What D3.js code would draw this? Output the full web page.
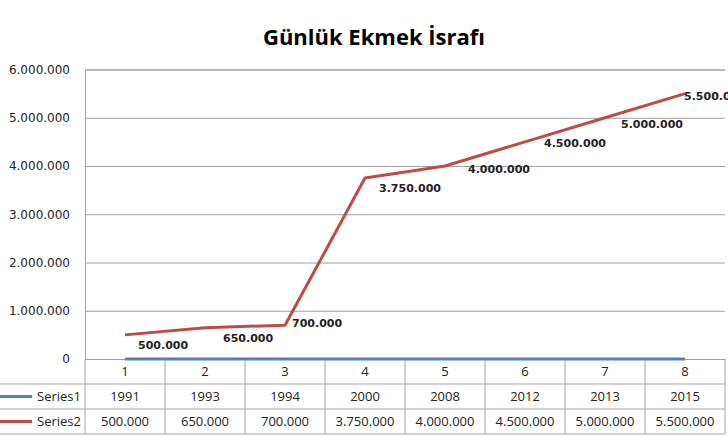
<!DOCTYPE html>
<html>
<head>
<meta charset="utf-8">
<script src="https://cdn.jsdelivr.net/npm/d3@7"></script>
<style>
  body { margin: 0; background: #fff; }
  svg { display: block; }
</style>
</head>
<body>
<div id="chart"></div>
<script>
// chart data
const title = "Günlük Ekmek İsrafı";
const categories = ["1", "2", "3", "4", "5", "6", "7", "8"];
const seriesNames = ["Series1", "Series2"];
const series1 = [1991, 1993, 1994, 2000, 2008, 2012, 2013, 2015];
const series2 = [500000, 650000, 700000, 3750000, 4000000, 4500000, 5000000, 5500000];
const yTicks = [0, 1000000, 2000000, 3000000, 4000000, 5000000, 6000000];
const colors = ["#4f81bd", "#be4b48"];
// where each series2 label sits relative to its point (Excel placed them by hand)
const labelOffsets = [[13, 14], [18, 14], [7, 2], [14, 14], [23, 7], [19, 5], [16, 10], [-1, 6]];

const width = 728, height = 436;
const plotLeft = 85, plotRight = 725, plotTop = 69.5, plotBottom = 359;
const rowH = 25;

const svg = d3.select("#chart").append("svg")
  .attr("width", width)
  .attr("height", height);

// dots as thousands separator, like the original
const fmt = d3.formatLocale({ decimal: ",", thousands: ".", grouping: [3], currency: ["", ""] }).format(",d");

const x = d3.scaleBand().domain(categories).range([plotLeft, plotRight]);
const y = d3.scaleLinear().domain([0, 6000000]).range([plotBottom, plotTop]);

svg.append("text")
  .attr("x", 374).attr("y", 45)
  .attr("text-anchor", "middle")
  .style("font-family", "'Open Sans', sans-serif")
  .style("font-weight", "bold")
  .style("font-size", "22px")
  .text(title);

// gridlines + y labels
const yAxis = svg.append("g")
  .attr("transform", `translate(${plotLeft},0)`)
  .call(d3.axisLeft(y).tickValues(yTicks).tickSize(-(plotRight - plotLeft)).tickPadding(15).tickFormat(fmt));
yAxis.select(".domain").attr("stroke", "#a0a0a0");
yAxis.selectAll(".tick line").attr("stroke", "#a0a0a0");
yAxis.selectAll(".tick text")
  .style("font-family", "'DejaVu Sans', sans-serif")
  .style("font-size", "12px")
  .attr("fill", "#222");

// data table under the plot
const tbl = svg.append("g").style("font-family", "'Open Sans', sans-serif").style("font-size", "13px");
const rowsY = [plotBottom + rowH, plotBottom + 2 * rowH, plotBottom + 3 * rowH];
rowsY.forEach(ry => {
  tbl.append("line").attr("x1", 0).attr("x2", plotRight).attr("y1", ry).attr("y2", ry).attr("stroke", "#a6a6a6");
});
const bounds = categories.map(c => x(c)).concat([plotRight]);
bounds.forEach(bx => {
  tbl.append("line").attr("x1", bx).attr("x2", bx).attr("y1", plotBottom).attr("y2", plotBottom + 3 * rowH).attr("stroke", "#a6a6a6");
});

tbl.selectAll("text.cat").data(categories).enter().append("text")
  .attr("x", d => x(d) + x.bandwidth() / 2)
  .attr("y", plotBottom + rowH / 2 + 4.5)
  .attr("text-anchor", "middle")
  .attr("fill", "#222")
  .text(d => d);

[series1, series2].forEach((vals, i) => {
  const cy = plotBottom + rowH * (i + 1) + rowH / 2;
  tbl.append("line").attr("x1", 0).attr("x2", 32).attr("y1", cy).attr("y2", cy)
    .attr("stroke", colors[i]).attr("stroke-width", 3);
  tbl.append("text").attr("x", 81).attr("y", cy + 4.5).attr("text-anchor", "end").attr("fill", "#222").text(seriesNames[i]);
  tbl.selectAll("text.v" + i).data(vals).enter().append("text")
    .attr("x", (d, j) => x(categories[j]) + x.bandwidth() / 2)
    .attr("y", cy + 4.5)
    .attr("text-anchor", "middle")
    .attr("fill", "#222")
    .text(d => i === 0 ? d : fmt(d));
});

// lines
const line = d3.line()
  .x((d, i) => x(categories[i]) + x.bandwidth() / 2)
  .y(d => y(d));

[series1, series2].forEach((vals, i) => {
  svg.append("path")
    .datum(vals)
    .attr("fill", "none")
    .attr("stroke", colors[i])
    .attr("stroke-width", 3)
    .attr("stroke-linejoin", "round")
    .attr("d", line);
});

// value labels on series2
svg.selectAll("text.lbl").data(series2).enter().append("text")
  .attr("x", (d, i) => x(categories[i]) + x.bandwidth() / 2 + labelOffsets[i][0])
  .attr("y", (d, i) => y(d) + labelOffsets[i][1])
  .style("font-family", "'DejaVu Sans', sans-serif")
  .style("font-weight", "bold")
  .style("font-size", "11px")
  .attr("fill", "#222")
  .text(d => fmt(d));
</script>
</body>
</html>
